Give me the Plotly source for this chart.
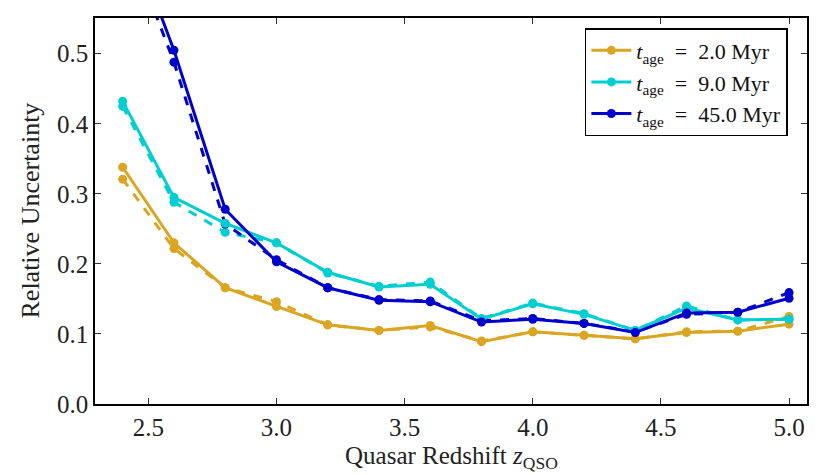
import plotly.graph_objects as go

z = [2.4, 2.6, 2.8, 3.0, 3.2, 3.4, 3.6, 3.8, 4.0, 4.2, 4.4, 4.6, 4.8, 5.0]

age_labels = ["2.0", "9.0", "45.0"]
colors = ["#DAA520", "#00CED1", "#0000CD"]

# solid series
solid_2 = [0.338, 0.230, 0.166, 0.139, 0.113, 0.105, 0.112, 0.089, 0.103, 0.098, 0.093, 0.102, 0.104, 0.114]
solid_9 = [0.432, 0.295, 0.258, 0.230, 0.188, 0.167, 0.171, 0.121, 0.143, 0.128, 0.105, 0.137, 0.120, 0.121]
solid_45 = [0.700, 0.505, 0.278, 0.203, 0.166, 0.148, 0.146, 0.117, 0.121, 0.115, 0.102, 0.130, 0.131, 0.151]

# dashed series
dash_2 = [0.321, 0.222, 0.166, 0.146, 0.113, 0.105, 0.110, 0.090, 0.103, 0.098, 0.093, 0.103, 0.104, 0.125]
dash_9 = [0.425, 0.288, 0.245, 0.230, 0.187, 0.168, 0.174, 0.122, 0.144, 0.129, 0.105, 0.140, 0.120, 0.121]
dash_45 = [0.680, 0.488, 0.257, 0.206, 0.166, 0.149, 0.147, 0.119, 0.122, 0.115, 0.103, 0.128, 0.131, 0.159]

x_ticks = [2.5, 3.0, 3.5, 4.0, 4.5, 5.0]
y_ticks = [0.0, 0.1, 0.2, 0.3, 0.4, 0.5]

FONT = "Liberation Serif, DejaVu Serif, serif"
TXT = "#222"

fig = go.Figure()
solids = [solid_2, solid_9, solid_45]
dashes = [dash_2, dash_9, dash_45]
for lab, col, s, d in zip(age_labels, colors, solids, dashes):
    fig.add_trace(go.Scatter(
        x=z, y=d, mode="lines+markers", showlegend=False,
        line=dict(color=col, width=3, dash="dash"),
        marker=dict(color=col, size=9)))
for lab, col, s, d in zip(age_labels, colors, solids, dashes):
    fig.add_trace(go.Scatter(
        x=z, y=s, mode="lines+markers",
        name=f"<i>t</i><sub>age</sub>  =  {lab} Myr",
        line=dict(color=col, width=3),
        marker=dict(color=col, size=9)))

axis_common = dict(
    showline=True, linecolor="black", linewidth=1.5, mirror="ticks",
    ticks="inside", ticklen=6, tickwidth=1, tickcolor="#333",
    showgrid=False, zeroline=False, automargin=False,
    tickfont=dict(family=FONT, size=25, color=TXT),
)

fig.update_xaxes(range=[2.292, 5.07], tickvals=x_ticks,
                 ticktext=[f"{v:.1f}" for v in x_ticks], **axis_common)
fig.update_yaxes(range=[0, 0.551], tickvals=y_ticks,
                 ticktext=[f"{v:.1f}" for v in y_ticks], **axis_common)

fig.add_annotation(text="Quasar Redshift <i>z</i><sub>QSO</sub>",
                   xref="paper", yref="paper", x=0.5, y=0, yshift=-36,
                   xanchor="center", yanchor="top", showarrow=False,
                   font=dict(family=FONT, size=25, color=TXT))
fig.add_annotation(text="Relative Uncertainty",
                   xref="paper", yref="paper", x=0, y=0.5, xshift=-49,
                   xanchor="right", yanchor="middle", textangle=-90, showarrow=False,
                   font=dict(family=FONT, size=26, color=TXT))

fig.update_layout(
    width=830, height=475,
    margin=dict(l=95, r=23, t=18, b=71),
    plot_bgcolor="white", paper_bgcolor="white",
    legend=dict(x=0.688, y=0.974, xanchor="left", yanchor="top",
                bordercolor="black", borderwidth=1.5, bgcolor="white",
                font=dict(family=FONT, size=22, color="#111"),
                tracegroupgap=0, itemwidth=40),
)

fig.write_html("out.html", config={"displayModeBar": False},
               post_script="document.body.style.margin='0';")
